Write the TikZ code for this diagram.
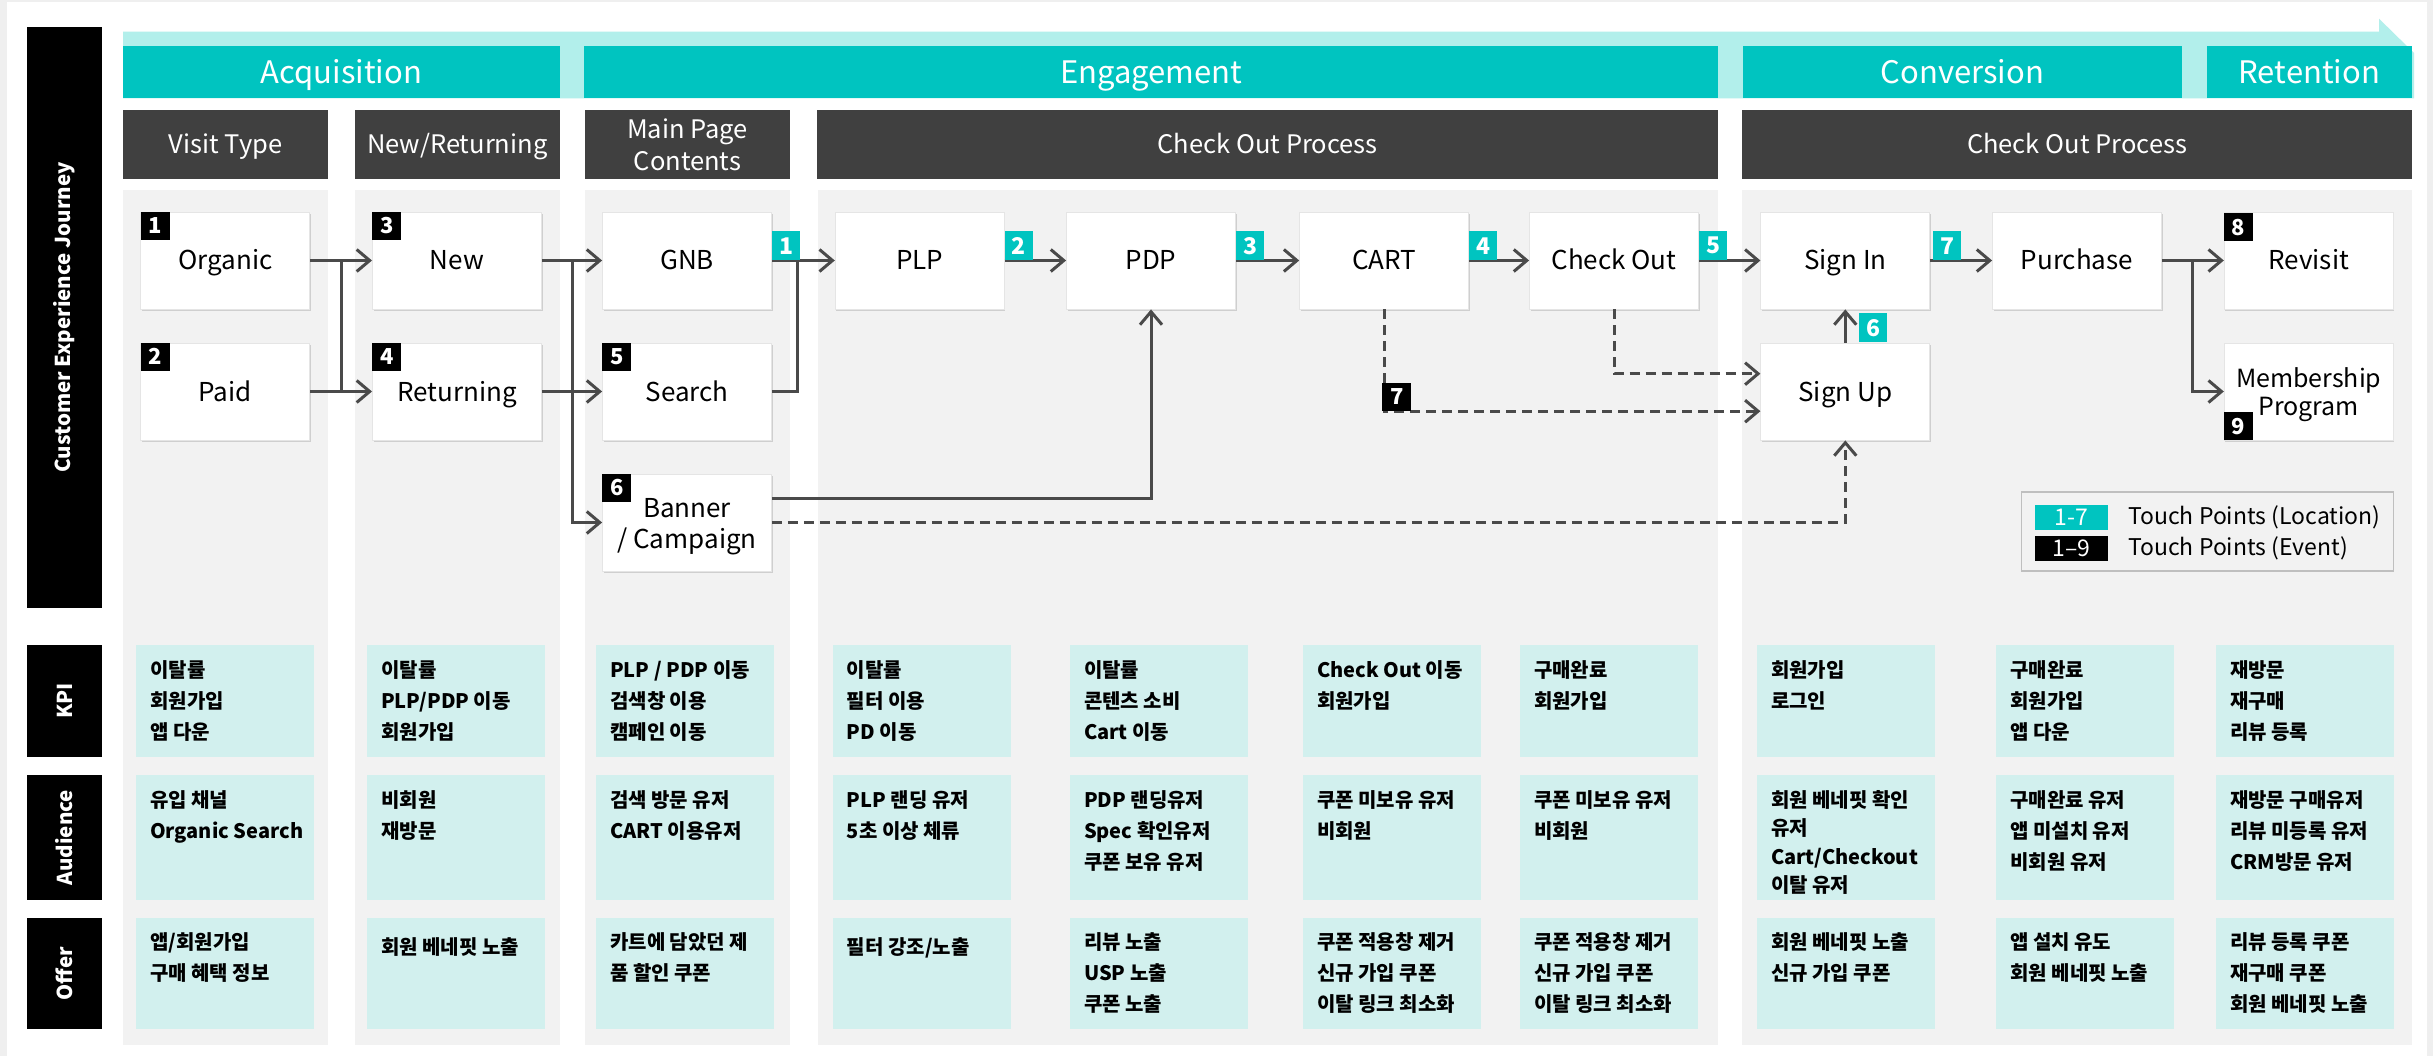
\documentclass[tikz,border=0pt]{standalone}
\usepackage{fontspec}
\setmainfont{Noto Sans CJK KR}
\usetikzlibrary{arrows.meta,shadows,calc}
\definecolor{tealc}{HTML}{00C4C0}
\definecolor{lcyan}{HTML}{B2EFEB}
\definecolor{darkh}{HTML}{404040}
\definecolor{colg}{HTML}{F2F2F2}
\definecolor{kcyan}{HTML}{D2F0EE}
\definecolor{lineg}{HTML}{4A4A4A}
\definecolor{frameg}{HTML}{EFEFEF}
\newcommand\kcell[5]{%
  \node[kbox, minimum width=178pt, minimum height=#4pt] (#1) at (#2,#3) {};
  \node[ktxt] (#1t) at ($(#1.north west)+(14,15)$) {#5};}
\begin{document}
\begin{tikzpicture}[x=1pt,y=-1pt,
  fbox/.style={fill=white, draw=black!10, line width=0.8pt, minimum width=169pt, minimum height=97pt, inner sep=0pt, align=center, font=\fontsize{26}{31}\selectfont, text height=19pt, text depth=0pt, drop shadow={shadow xshift=1.2pt, shadow yshift=-2.2pt, opacity=0.3}},
  ftxt/.style={inner sep=0pt, align=center, font=\fontsize{26}{31}\selectfont},
  evb/.style={fill=black, text=white, minimum width=29pt, minimum height=28pt, inner sep=0pt, font=\fontsize{22}{22}\selectfont\bfseries, anchor=north west},
  locb/.style={fill=tealc, text=white, minimum width=28pt, minimum height=29pt, inner sep=0pt, font=\fontsize{23}{23}\selectfont\bfseries, anchor=south west},
  ln/.style={draw=lineg, line width=3pt},
  conn/.style={ln, -{Straight Barb[length=13pt,width=22pt]}},
  dconn/.style={conn, dash pattern=on 10pt off 6pt},
  tealbar/.style={fill=tealc, text=white, minimum height=52pt, inner sep=0pt, font=\fontsize{31}{31}\selectfont, text height=22.7pt, text depth=0pt},
  hdr/.style={fill=darkh, text=white, minimum height=68.7pt, inner sep=0pt, align=center, font=\fontsize{25.5}{32}\selectfont},
  hdrone/.style={hdr, text height=18.7pt, text depth=0pt},
  sidebar/.style={fill=black, minimum width=75pt, inner sep=0pt},
  sidetxt/.style={rotate=90, text=white, inner sep=0pt, font=\fontsize{20.5}{20.5}\selectfont\bfseries},
  kbox/.style={fill=kcyan, anchor=north west, inner sep=0pt},
  ktxt/.style={anchor=north west, inner sep=0pt, align=left, font=\fontsize{20}{31}\selectfont\bfseries, execute at begin node=\strut}
]
\useasboundingbox (0,0) rectangle (2433,1056);
% frame
\fill[frameg] (0,0) rectangle (2433,1056);
\fill[white] (7,2.5) rectangle (2427,1056);
% big arrow band
\fill[lcyan] (123,31.7) -- (2379,31.7) -- (2379,18.7) -- (2414,53) -- (2414,98.3) -- (123,98.3) -- cycle;
% teal bars
\node[tealbar, minimum width=436.6pt] (acq) at (341.3,72) {Acquisition};
\node[tealbar, minimum width=1133.8pt] (eng) at (1151.1,72) {Engagement};
\node[tealbar, minimum width=438.8pt] (conv) at (1962.4,72) {Conversion};
\node[tealbar, minimum width=204.9pt] (reten) at (2309.3,72) {Retention};
% dark headers
\node[hdrone, minimum width=205pt] (h1) at (225.5,144.3) {Visit Type};
\node[hdrone, minimum width=204.6pt] (h2) at (457.3,144.3) {New/Returning};
\node[hdr, minimum width=205pt] (h3) at (687.5,144.3) {Main Page\\Contents};
\node[hdrone, minimum width=900.5pt] (h4) at (1267.7,144.3) {Check Out Process};
\node[hdrone, minimum width=670pt] (h5) at (2077,144.3) {Check Out Process};
% gray columns
\fill[colg] (123,190) rectangle (328,1045);
\fill[colg] (355,190) rectangle (559.6,1045);
\fill[colg] (585,190) rectangle (790,1045);
\fill[colg] (817.5,190) rectangle (1718,1045);
\fill[colg] (1742,190) rectangle (2412,1045);
% side labels
\node[sidebar, minimum height=581pt] (cej) at (64.5,317.5) {};
\node[sidetxt] (cejt) at (cej) {Customer Experience Journey};
\node[sidebar, minimum height=112pt] (kpi) at (64.5,701) {};
\node[sidetxt] (kpit) at (kpi) {KPI};
\node[sidebar, minimum height=125pt] (aud) at (64.5,837.5) {};
\node[sidetxt] (audt) at (aud) {Audience};
\node[sidebar, minimum height=111.5pt] (off) at (64.5,973.7) {};
\node[sidetxt] (offt) at (off) {Offer};
% flow boxes
\node[fbox] (org) at (225.3,260.5) {Organic};
\node[fbox] (paid) at (225.3,391.5) {Paid};
\node[fbox] (new) at (456.9,260.5) {New};
\node[fbox] (ret) at (456.9,391.5) {Returning};
\node[fbox] (gnb) at (687,260.5) {GNB};
\node[fbox] (srch) at (687,391.5) {Search};
\node[fbox] (ban) at (687,522.5) {};
\node[ftxt] (bant) at ($(ban)+(0,4)$) {Banner\\/ Campaign};
\node[fbox] (plp) at (919.7,260.5) {PLP};
\node[fbox] (pdp) at (1151,260.5) {PDP};
\node[fbox] (cart) at (1384.1,260.5) {CART};
\node[fbox] (co) at (1614,260.5) {Check Out};
\node[fbox] (si) at (1845.3,260.5) {Sign In};
\node[fbox] (su) at (1845.3,391.5) {Sign Up};
\node[fbox] (pur) at (2077,260.5) {Purchase};
\node[fbox] (rev) at (2308.7,260.5) {Revisit};
\node[fbox] (mem) at (2308.7,391.5) {};
\node[ftxt, font=\fontsize{25}{28}\selectfont] (memt) at ($(mem)+(0,3)$) {Membership\\Program};
% junctions
\coordinate (j1) at (341,0);
\coordinate (j2) at (572.7,0);
\coordinate (j3) at (797.6,0);
\coordinate (j4) at (2192.8,0);
% connectors
\draw[conn] (org.east) -- (new.west);
\draw[conn] (paid.east) -- (ret.west);
\draw[ln] (org.east -| j1) -- (paid.east -| j1);
\draw[conn] (new.east) -- (gnb.west);
\draw[conn] (ret.east) -- (srch.west);
\draw[conn] (new.east -| j2) |- (ban.west);
\draw[conn] (gnb.east) -- (plp.west);
\draw[ln] (srch.east) -| (gnb.east -| j3);
\draw[conn] (plp.east) -- (pdp.west);
\draw[conn] (pdp.east) -- (cart.west);
\draw[conn] (cart.east) -- (co.west);
\draw[conn] (co.east) -- (si.west);
\draw[conn] (si.east) -- (pur.west);
\draw[conn] (su.north) -- (si.south);
\draw[conn] (pur.east) -- (rev.west);
\draw[conn] (pur.east -| j4) |- (mem.west);
\draw[conn] ($(ban.east)+(0,-24.5)$) -| (pdp.south);
\draw[dconn] (ban.east) -| (su.south);
\draw[dconn] (cart.south) |- ($(su.west)+(0,19.7)$);
\draw[dconn] (co.south) |- ($(su.west)+(0,-17.8)$);
% event badges
\node[evb] (e1) at (org.north west) {1};
\node[evb] (e2) at (paid.north west) {2};
\node[evb] (e3) at (new.north west) {3};
\node[evb] (e4) at (ret.north west) {4};
\node[evb] (e5) at (srch.north west) {5};
\node[evb] (e6) at (ban.north west) {6};
\node[evb, anchor=south west] (e7) at ($(cart.south |- su.west)+(-2,19.7)$) {7};
\node[evb] (e8) at ($(rev.north west)+(0,1.5)$) {8};
\node[evb, anchor=south west] (e9) at (mem.south west) {9};
% location badges
\node[locb] (l1) at (gnb.east) {1};
\node[locb] (l2) at (plp.east) {2};
\node[locb] (l3) at (pdp.east) {3};
\node[locb] (l4) at (cart.east) {4};
\node[locb] (l5) at (co.east) {5};
\node[locb] (l7) at ($(si.east)+(3,0)$) {7};
\node[locb] (l6) at ($(su.north)+(13.7,0)$) {6};
% legend
\node[draw=black!25, line width=1.5pt, fill=colg, minimum width=372pt, minimum height=79pt, inner sep=0pt] (leg) at (2207.5,531.7) {};
\node[fill=tealc, text=white, minimum width=73pt, minimum height=25pt, inner sep=0pt, font=\fontsize{23}{23}\selectfont] (sw1) at (2071.5,517.5) {1-7};
\node[fill=black, text=white, minimum width=73pt, minimum height=25pt, inner sep=0pt, font=\fontsize{23}{23}\selectfont] (sw2) at (2071.5,548.4) {1–9};
\node[anchor=west, inner sep=0pt, font=\fontsize{23}{23}\selectfont] (lt1) at (2128,517.5) {Touch Points (Location)};
\node[anchor=west, inner sep=0pt, font=\fontsize{23}{23}\selectfont] (lt2) at (2128,548.4) {Touch Points (Event)};
% KPI row
\kcell{k1}{136}{645}{112}{이탈률\\회원가입\\앱 다운}
\kcell{k2}{367}{645}{112}{이탈률\\PLP/PDP 이동\\회원가입}
\kcell{k3}{596}{645}{112}{PLP / PDP 이동\\검색창 이용\\캠페인 이동}
\kcell{k4}{832.7}{645}{112}{이탈률\\필터 이용\\PD 이동}
\kcell{k5}{1069.8}{645}{112}{이탈률\\콘텐츠 소비\\Cart 이동}
\kcell{k6}{1302.9}{645}{112}{Check Out 이동\\회원가입}
\kcell{k7}{1519.9}{645}{112}{구매완료\\회원가입}
\kcell{k8}{1756.9}{645}{112}{회원가입\\로그인}
\kcell{k9}{1996}{645}{112}{구매완료\\회원가입\\앱 다운}
\kcell{k10}{2215.8}{645}{112}{재방문\\재구매\\리뷰 등록}
% Audience row
\kcell{a1}{136}{775}{125}{유입 채널\\Organic Search}
\kcell{a2}{367}{775}{125}{비회원\\재방문}
\kcell{a3}{596}{775}{125}{검색 방문 유저\\CART 이용유저}
\kcell{a4}{832.7}{775}{125}{PLP 랜딩 유저\\5초 이상 체류}
\kcell{a5}{1069.8}{775}{125}{PDP 랜딩유저\\Spec 확인유저\\쿠폰 보유 유저}
\kcell{a6}{1302.9}{775}{125}{쿠폰 미보유 유저\\비회원}
\kcell{a7}{1519.9}{775}{125}{쿠폰 미보유 유저\\비회원}
\node[kbox, minimum width=178pt, minimum height=125pt] (a8) at (1756.9,775) {};
\node[ktxt, font=\fontsize{20}{28.5}\selectfont\bfseries] (a8t) at ($(a8.north west)+(14,15)$) {회원 베네핏 확인\\유저\\Cart/Checkout\\이탈 유저};
\kcell{a9}{1996}{775}{125}{구매완료 유저\\앱 미설치 유저\\비회원 유저}
\kcell{a10}{2215.8}{775}{125}{재방문 구매유저\\리뷰 미등록 유저\\CRM방문 유저}
% Offer row
\kcell{o1}{136}{917.7}{111.5}{앱/회원가입\\구매 혜택 정보}
\kcell{o2}{367}{917.7}{111.5}{회원 베네핏 노출}
\kcell{o3}{596}{917.7}{111.5}{카트에 담았던 제\\품 할인 쿠폰}
\kcell{o4}{832.7}{917.7}{111.5}{필터 강조/노출}
\kcell{o5}{1069.8}{917.7}{111.5}{리뷰 노출\\USP 노출\\쿠폰 노출}
\kcell{o6}{1302.9}{917.7}{111.5}{쿠폰 적용창 제거\\신규 가입 쿠폰\\이탈 링크 최소화}
\kcell{o7}{1519.9}{917.7}{111.5}{쿠폰 적용창 제거\\신규 가입 쿠폰\\이탈 링크 최소화}
\kcell{o8}{1756.9}{917.7}{111.5}{회원 베네핏 노출\\신규 가입 쿠폰}
\kcell{o9}{1996}{917.7}{111.5}{앱 설치 유도\\회원 베네핏 노출}
\kcell{o10}{2215.8}{917.7}{111.5}{리뷰 등록 쿠폰\\재구매 쿠폰\\회원 베네핏 노출}
\end{tikzpicture}
\end{document}
